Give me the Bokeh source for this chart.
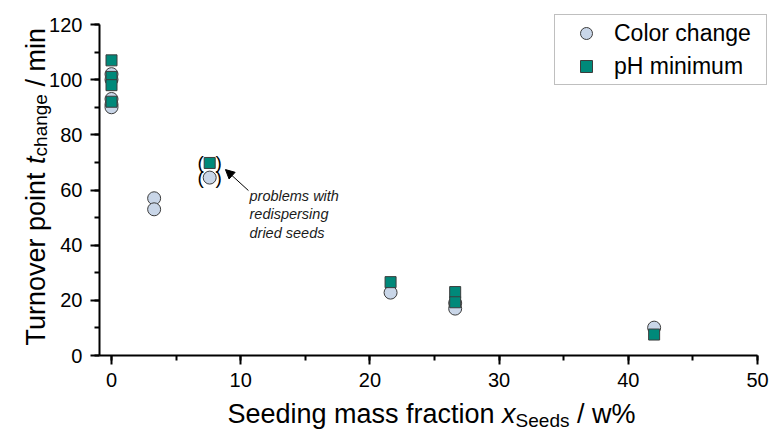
import math
from bokeh.plotting import figure
from bokeh.models import (ColumnDataSource, Label, Legend, LegendItem, Arrow, NormalHead,
                          SingleIntervalTicker, Range1d)
from bokeh.core.properties import value
from bokeh.embed import file_html
from bokeh.resources import INLINE

# ---------------- data ----------------
color_x = [0, 0, 0, 0, 0, 3.3, 3.3, 7.6, 21.6, 26.6, 26.6, 42.0]
color_y = [102, 100, 93, 91, 90, 57, 53, 64.5, 22.8, 19, 17, 10.1]
ph_x = [0, 0, 0, 0, 7.6, 21.6, 26.6, 26.6, 42.0]
ph_y = [107, 101, 98, 92, 69.8, 26.6, 23, 19.3, 7.6]
paren_x = [7.6, 7.6]          # bracketed (uncertain) points
paren_y = [69.8, 64.5]
x_ticks_interval = 10
y_ticks_interval = 20
x_axis_bounds = (-0.93, 50)
y_axis_bounds = (0, 120)
note_text = ["problems with", "redispersing", "dried seeds"]
note_pos = (10.68, 58.0)
arrow_from = (10.6, 59.8)
arrow_to = (8.82, 67.4)
x_label_parts = ["Seeding mass fraction", " x", "Seeds", " / w%"]
y_label_parts = ["Turnover point", " t", "change", " / min"]

FONT = "Liberation Sans"
CIRCLE_FILL = "#c9d6e8"
SQUARE_FILL = "#00897a"
EDGE = "#3c3c3c"

# Arial / Liberation Sans advance widths (per 1000 em)
W = {'T': 611, 'u': 556, 'r': 333, 'n': 556, 'o': 556, 'v': 500, 'e': 556, ' ': 278,
     'p': 556, 'i': 222, 't': 278, 'c': 500, 'h': 556, 'a': 556, 'g': 556, '/': 278,
     'm': 833, 'S': 667, 'd': 556, 's': 500, 'f': 278, 'x': 500, 'w': 722, '%': 889}


def tw(s, size):
    return sum(W[ch] for ch in s) / 1000.0 * size


# ---------------- geometry (pixels) ----------------
TOTAL_W, TOTAL_H = 771, 430
PX_X0, PX_X50 = 111, 757          # pixel of x=0 and x=50
PX_Y0, PX_Y120 = 355, 24          # pixel of y=0 and y=120
sx = (PX_X50 - PX_X0) / 50.0
sy = (PX_Y0 - PX_Y120) / 120.0


def dx(px):
    return (px - PX_X0) / sx


def dy(py):
    return (PX_Y0 - py) / sy


# frame covers the whole canvas; axes are pinned at x=-0.93 / y=0
p = figure(width=TOTAL_W, height=TOTAL_H, output_backend="svg", toolbar_location=None,
           x_range=Range1d(dx(0), dx(TOTAL_W)), y_range=Range1d(dy(TOTAL_H), dy(0)),
           min_border_left=0, min_border_right=0, min_border_top=0, min_border_bottom=0)
p.outline_line_color = None
p.xgrid.visible = False
p.ygrid.visible = False
p.background_fill_color = "white"
p.border_fill_color = "white"

p.xaxis.ticker = SingleIntervalTicker(interval=x_ticks_interval, num_minor_ticks=2)
p.yaxis.ticker = SingleIntervalTicker(interval=y_ticks_interval, num_minor_ticks=2)
p.xaxis.bounds = x_axis_bounds
p.yaxis.bounds = y_axis_bounds
p.xaxis.fixed_location = y_axis_bounds[0]
p.yaxis.fixed_location = x_axis_bounds[0]
for ax in (p.xaxis, p.yaxis):
    ax.axis_line_width = 2
    ax.axis_line_color = "black"
    ax.major_tick_line_width = 2
    ax.minor_tick_line_width = 2
    ax.major_tick_line_color = "black"
    ax.minor_tick_line_color = "black"
    ax.major_tick_in = 0
    ax.minor_tick_in = 0
    ax.major_tick_out = 9
    ax.minor_tick_out = 5
    ax.major_label_text_font = FONT
    ax.major_label_text_font_size = "20px"
    ax.major_label_text_color = "black"
    ax.major_label_standoff = 8

src_c = ColumnDataSource(dict(x=color_x, y=color_y))
src_p = ColumnDataSource(dict(x=ph_x, y=ph_y))
r_c = p.scatter("x", "y", source=src_c, marker="circle", size=13,
                fill_color=CIRCLE_FILL, line_color=EDGE, line_width=1)
r_p = p.scatter("x", "y", source=src_p, marker="square", size=11,
                fill_color=SQUARE_FILL, line_color=EDGE, line_width=1)

src_par = ColumnDataSource(dict(x=paren_x, y=paren_y))
for txt, off in (("(", -9), (")", 9)):
    p.text("x", "y", text=value(txt), source=src_par, x_offset=off,
           text_align="center", text_baseline="middle",
           text_font=value(FONT), text_font_size="19px", text_color="black")

# annotation
for i, line in enumerate(note_text):
    p.add_layout(Label(x=note_pos[0], y=note_pos[1], text=line, y_offset=-18.5 * i,
                       text_font=FONT, text_font_style="italic", text_font_size="14.5px",
                       text_baseline="middle", text_align="left", text_color="#1a1a1a"))
p.add_layout(Arrow(end=NormalHead(size=9, fill_color="black", line_color="black"),
                   x_start=arrow_from[0], y_start=arrow_from[1],
                   x_end=arrow_to[0], y_end=arrow_to[1], line_width=1, line_color="black"))

legend = Legend(items=[LegendItem(label="Color change", renderers=[r_c]),
                       LegendItem(label="pH minimum", renderers=[r_p])],
                location=(554, TOTAL_H - 85), orientation="vertical",
                label_text_font=FONT, label_text_font_size="23px", label_text_color="black",
                glyph_width=56, glyph_height=30, label_height=30, label_width=149,
                label_standoff=0, spacing=3, padding=3, margin=0,
                border_line_color="#7f7f7f", border_line_width=1,
                background_fill_color="white", background_fill_alpha=1)
p.add_layout(legend, "center")


def rich_pieces(parts, sizes, styles, shifts, start):
    """(text, size, style, shift, advance position); leading spaces become advance"""
    pos = start
    out = []
    for txt, fs, st, sh in zip(parts, sizes, styles, shifts):
        stripped = txt.lstrip(" ")
        pos += tw(txt[:len(txt) - len(stripped)], fs)
        out.append((stripped, fs, st, sh, pos))
        pos += tw(stripped, fs)
    return out


# ---- y axis label (rotated, rich text): positions in pixels, converted to data ----
fy, fys = 27, 19
for txt, fs, st, sh, pos in rich_pieces(y_label_parts, [fy, fy, fys, fy],
                                         ["normal", "italic", "normal", "normal"],
                                         [0, 0, 5, 0], 0):
    p.text(x=[dx(35 + sh)], y=[dy(345 - pos)], text=[txt], angle=math.pi / 2,
           text_font=value(FONT), text_font_size=f"{fs}px", text_font_style=st,
           text_align="left", text_baseline="alphabetic", text_color="black")

# ---- x axis label (rich text) ----
fx, fxs = 27, 19
for txt, fs, st, sh, pos in rich_pieces(x_label_parts, [fx, fx, fxs, fx],
                                         ["normal", "italic", "normal", "normal"],
                                         [0, 0, 7, 0], 227):
    p.text(x=[dx(pos)], y=[dy(413 + sh)], text=[txt],
           text_font=value(FONT), text_font_size=f"{fs}px", text_font_style=st,
           text_align="left", text_baseline="alphabetic", text_color="black")

open("out.html", "w").write(file_html(p, INLINE))
